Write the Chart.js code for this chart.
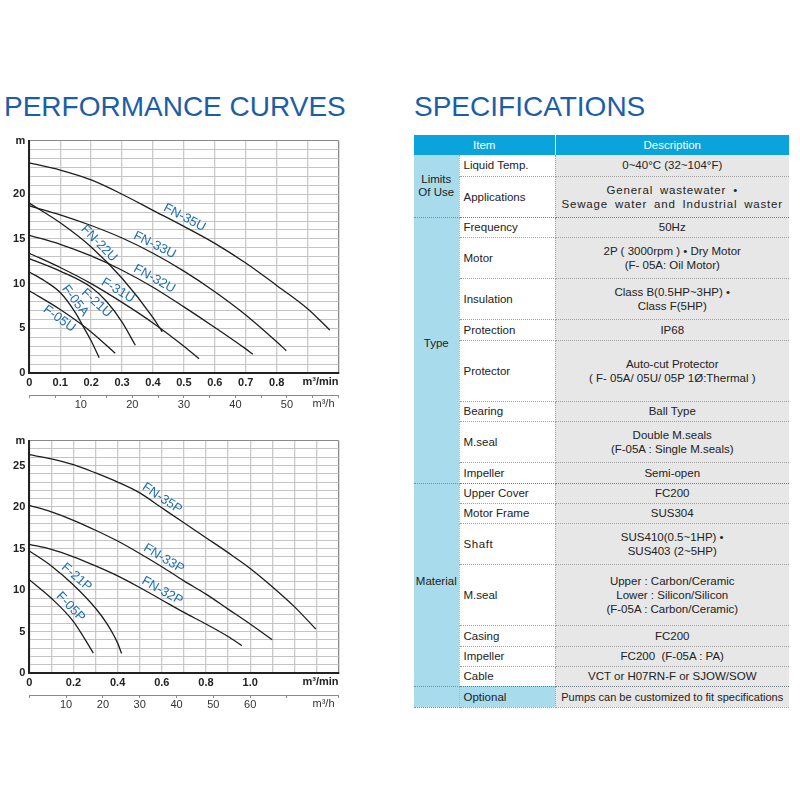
<!DOCTYPE html>
<html>
<head>
<meta charset="utf-8">
<script src="https://cdn.jsdelivr.net/npm/chart.js@4.4.1/dist/chart.umd.min.js"></script>
<style>
  body { margin:0; width:800px; height:800px; background:#fff; position:relative; overflow:hidden;
         font-family:"Liberation Sans", Arial, sans-serif; }
  .title { position:absolute; top:93px; font-size:28px; line-height:28px; color:#1b5ea7; white-space:nowrap; }
  canvas { position:absolute; left:0; }
  #top { top:130px; }
  #bot { top:430px; }
  #spec { position:absolute; left:414px; top:135px; }
  #spec table { border-collapse:collapse; table-layout:fixed; width:375px; font-size:11.5px; color:#222; }
  #spec th { background:#0ba3dc; color:#fff; font-weight:normal; font-size:11.5px; height:20px; padding:0; }
  #spec th + th { border-left:1px solid #fff; }
  #spec td { padding:0; border-bottom:1px dotted #a0a0a0; }
  #spec td.cat { background:#a8dbeb; text-align:center; vertical-align:middle; line-height:13px;
                 border-right:1px dotted #9fb8c2; border-bottom:1px dotted #7f8f96; }
  #spec td.it { background:#fff; padding-left:4px; border-right:1px dotted #a0a0a0; }
  #spec td.ds { background:#e7e7e7; text-align:center; line-height:14px; }
  #spec tr.end td { border-bottom:1px dotted #6f7a80; }
  #spec td.opt { background:#a8dbeb; }
  .wide { letter-spacing:0.8px; word-spacing:3px; }
</style>
</head>
<body>
<div class="title" style="left:4px">PERFORMANCE CURVES</div>
<div class="title" style="left:414px">SPECIFICATIONS</div>

<canvas id="top" width="345" height="290"></canvas>
<canvas id="bot" width="345" height="290"></canvas>

<div id="spec">
<table>
  <colgroup><col style="width:45px"><col style="width:96px"><col style="width:234px"></colgroup>
  <tr><th colspan="2">Item</th><th>Description</th></tr>
  <tr style="height:21px"><td class="cat" rowspan="2">Limits<br>Of Use</td><td class="it">Liquid Temp.</td><td class="ds">0~40°C (32~104°F)</td></tr>
  <tr class="end" style="height:41px"><td class="it">Applications</td><td class="ds wide">General wastewater •<br>Sewage water and Industrial waster</td></tr>
  <tr style="height:20px"><td class="cat" rowspan="8" style="padding-bottom:14px">Type</td><td class="it">Frequency</td><td class="ds">50Hz</td></tr>
  <tr style="height:41px"><td class="it">Motor</td><td class="ds">2P ( 3000rpm ) • Dry Motor<br>(F- 05A: Oil Motor)</td></tr>
  <tr style="height:41px"><td class="it">Insulation</td><td class="ds">Class B(0.5HP~3HP) •<br>Class F(5HP)</td></tr>
  <tr style="height:21px"><td class="it">Protection</td><td class="ds">IP68</td></tr>
  <tr style="height:61px"><td class="it">Protector</td><td class="ds">Auto-cut Protector<br>( F- 05A/ 05U/ 05P 1Ø:Thermal )</td></tr>
  <tr style="height:20px"><td class="it">Bearing</td><td class="ds">Ball Type</td></tr>
  <tr style="height:41px"><td class="it">M.seal</td><td class="ds">Double M.seals<br>(F-05A : Single M.seals)</td></tr>
  <tr class="end" style="height:21px"><td class="it">Impeller</td><td class="ds">Semi-open</td></tr>
  <tr style="height:20px"><td class="cat" rowspan="7" style="padding-bottom:6px">Material</td><td class="it">Upper Cover</td><td class="ds">FC200</td></tr>
  <tr style="height:20px"><td class="it">Motor Frame</td><td class="ds">SUS304</td></tr>
  <tr style="height:41px"><td class="it" style="letter-spacing:0.6px">Shaft</td><td class="ds">SUS410(0.5~1HP) •<br>SUS403 (2~5HP)</td></tr>
  <tr style="height:61px"><td class="it">M.seal</td><td class="ds">Upper : Carbon/Ceramic<br>Lower : Silicon/Silicon<br>(F-05A : Carbon/Ceramic)</td></tr>
  <tr style="height:21px"><td class="it">Casing</td><td class="ds">FC200</td></tr>
  <tr style="height:20px"><td class="it">Impeller</td><td class="ds">FC200 &nbsp;(F-05A : PA)</td></tr>
  <tr class="end" style="height:20px"><td class="it">Cable</td><td class="ds">VCT or H07RN-F or SJOW/SOW</td></tr>
  <tr style="height:21px"><td class="cat"></td><td class="it opt">Optional</td><td class="ds" style="font-size:11px">Pumps can be customized to fit specifications</td></tr>
</table>
</div>

<script>
// flow in m³/min, head in m

// upper chart (U series)
const fn35uQ = [0, 0.1, 0.2, 0.3, 0.4, 0.5, 0.6, 0.7, 0.8, 0.9, 0.972];
const fn35uH = [23.5, 22.7, 21.6, 20.0, 18.2, 16.4, 14.5, 12.3, 9.8, 7.2, 4.8];
const fn33uQ = [0, 0.1, 0.2, 0.3, 0.4, 0.5, 0.6, 0.7, 0.8, 0.831];
const fn33uH = [18.7, 17.7, 16.5, 15.1, 13.4, 11.4, 9.1, 6.5, 3.5, 2.5];
const fn32uQ = [0, 0.1, 0.2, 0.3, 0.4, 0.5, 0.6, 0.7, 0.723];
const fn32uH = [15.4, 14.4, 13.1, 11.5, 9.6, 7.4, 5.1, 2.7, 2.1];
const fn22uQ = [0, 0.1, 0.2, 0.3, 0.4, 0.43];
const fn22uH = [19.0, 16.8, 14.1, 10.6, 6.2, 4.6];
const f31uQ = [0, 0.1, 0.2, 0.3, 0.4, 0.5, 0.549];
const f31uH = [13.4, 11.8, 10.0, 7.9, 5.6, 3.0, 1.6];
const f21uQ = [0, 0.1, 0.2, 0.25, 0.3, 0.343];
const f21uH = [12.8, 11.4, 9.6, 8.0, 5.7, 3.1];
const f05aQ = [0, 0.05, 0.1, 0.15, 0.176, 0.2, 0.226];
const f05aH = [11.3, 10.3, 9.0, 6.7, 5.1, 3.6, 1.7];
const f05uQ = [0, 0.1, 0.2, 0.278];
const f05uH = [9.2, 7.1, 4.6, 2.2];

// lower chart (P series)
const fn35pQ = [0, 0.1, 0.2, 0.3, 0.4, 0.5, 0.6, 0.7, 0.8, 0.9, 1.0, 1.1, 1.2, 1.297];
const fn35pH = [26.3, 25.8, 25.1, 24.1, 23.0, 21.7, 19.9, 18.1, 16.3, 14.5, 12.6, 10.4, 8.0, 5.3];
const fn33pQ = [0, 0.1, 0.2, 0.3, 0.4, 0.5, 0.6, 0.7, 0.8, 0.9, 1.0, 1.1];
const fn33pH = [20.2, 19.4, 18.4, 17.2, 15.9, 14.4, 12.8, 11.1, 9.5, 7.7, 5.9, 4.0];
const fn32pQ = [0, 0.1, 0.2, 0.3, 0.4, 0.5, 0.6, 0.7, 0.8, 0.9, 0.962];
const fn32pH = [15.5, 14.9, 14.0, 12.9, 11.7, 10.3, 8.8, 7.3, 5.9, 4.4, 3.3];
const f21pQ = [0, 0.1, 0.2, 0.3, 0.35, 0.4, 0.418];
const f21pH = [14.7, 12.9, 10.6, 7.8, 6.0, 3.6, 2.35];
const f05pQ = [0, 0.1, 0.2, 0.29];
const f05pH = [11.25, 9.0, 6.2, 2.4];

// tick labels
const topFlowTicks = [0, 0.1, 0.2, 0.3, 0.4, 0.5, 0.6, 0.7, 0.8];
const topHourTicks = [10, 20, 30, 40, 50];
const topHeadTicks = [0, 5, 10, 15, 20];
const botFlowTicks = [0, 0.2, 0.4, 0.6, 0.8, 1.0];
const botHourTicks = [10, 20, 30, 40, 50, 60];
const botHeadTicks = [0, 5, 10, 15, 20, 25];

// curve names: which curve, at what flow, offset from the line in px (negative = above)
const topTags = [
  { t: 'FN-35U', set: 0, q: 0.49, d: -8 },
  { t: 'FN-33U', set: 1, q: 0.394, d: -8 },
  { t: 'FN-32U', set: 2, q: 0.392, d: -8 },
  { t: 'FN-22U', set: 3, q: 0.207, d: -8 },
  { t: 'F-31U', set: 4, q: 0.273, d: -8 },
  { t: 'F-21U', set: 5, q: 0.235, d: 8 },
  { t: 'F-05A', set: 6, q: 0.13, d: -7 },
  { t: 'F-05U', set: 7, q: 0.112, d: 8 }
];
const botTags = [
  { t: 'FN-35P', set: 0, q: 0.581, d: -8 },
  { t: 'FN-33P', set: 1, q: 0.59, d: -8 },
  { t: 'FN-32P', set: 2, q: 0.584, d: -8 },
  { t: 'F-21P', set: 3, q: 0.19, d: -8 },
  { t: 'F-05P', set: 4, q: 0.161, d: -8 }
];

const FONT = '"Liberation Sans", Arial, sans-serif';
Chart.defaults.font.family = FONT;

function pts(q, h) {
  return q.map((v, i) => ({ x: v, y: h[i] }));
}

function curve(q, h) {
  return {
    data: pts(q, h),
    borderColor: '#1e1e1e',
    borderWidth: 1.3,
    pointRadius: 0,
    fill: false,
    cubicInterpolationMode: 'monotone'
  };
}

function near(list, v) {
  return list.find(t => Math.abs(t - v) < 1e-6);
}

// blue curve names along their lines + unit names at the end of the flow axes
const curveTags = {
  id: 'curveTags',
  afterDatasetsDraw(chart, args, opts) {
    const { ctx, chartArea } = chart;
    const x = chart.scales.x, y = chart.scales.y, x2 = chart.scales.x2;
    ctx.save();
    ctx.fillStyle = '#1f6db5';
    ctx.font = '13px ' + FONT;
    ctx.textAlign = 'center';
    ctx.textBaseline = 'middle';
    opts.tags.forEach(tag => {
      const p = chart.data.datasets[tag.set].data;
      let i = 0;
      while (i < p.length - 2 && p[i + 1].x < tag.q) i++;
      const a = p[i], b = p[i + 1];
      const f = (tag.q - a.x) / (b.x - a.x);
      const px = x.getPixelForValue(tag.q);
      const py = y.getPixelForValue(a.y + f * (b.y - a.y));
      const ang = Math.atan2(y.getPixelForValue(b.y) - y.getPixelForValue(a.y),
                             x.getPixelForValue(b.x) - x.getPixelForValue(a.x));
      ctx.save();
      ctx.translate(px - tag.d * Math.sin(ang), py + tag.d * Math.cos(ang));
      ctx.rotate(ang);
      ctx.fillText(tag.t, 0, 0);
      ctx.restore();
    });
    ctx.textAlign = 'right';
    ctx.fillStyle = '#222';
    ctx.font = 'bold 11px ' + FONT;
    ctx.fillText('m³/min', chartArea.right, chartArea.bottom + 9);
    ctx.fillStyle = '#333';
    ctx.font = '11px ' + FONT;
    ctx.fillText('m³/h', chartArea.right - 4, x2.top + 9);
    ctx.restore();
  }
};

function makeChart(id, o) {
  return new Chart(document.getElementById(id), {
    type: 'line',
    data: { datasets: o.curves },
    plugins: [curveTags],
    options: {
      responsive: false,
      animation: false,
      layout: { padding: { top: 9.5, right: 6.5, left: 0, bottom: 0 } },
      plugins: { legend: { display: false }, tooltip: { enabled: false }, curveTags: { tags: o.tags } },
      scales: {
        x: {
          type: 'linear', min: 0, max: o.xMax, weight: 0,
          afterFit: s => { s.height = 22; },
          ticks: {
            stepSize: 0.1, autoSkip: false, maxRotation: 0, padding: 3,
            color: '#222', font: { size: 11, weight: 'bold' },
            callback: v => {
              const t = near(o.flowTicks, v);
              return t === undefined ? '' : (t === 0 ? '0' : t.toFixed(1));
            }
          },
          grid: {
            drawTicks: false, lineWidth: 1.3,
            color: c => (c.tick && Math.abs(c.tick.value - o.xMax) < 1e-6) ? '#8a8a8a' : '#cacaca'
          },
          border: { color: '#222', width: 2 }
        },
        x2: {
          type: 'linear', position: 'bottom', min: 0, max: o.hMax, weight: 1,
          afterFit: s => { s.height = 25; },
          ticks: {
            stepSize: o.hStep, autoSkip: false, maxRotation: 0, padding: 0,
            color: '#333', font: { size: 11 },
            callback: v => o.hourTicks.includes(v) ? String(v) : ''
          },
          grid: { drawOnChartArea: false, drawTicks: true, tickLength: 3, color: '#8a8a8a' },
          border: { color: '#8a8a8a', width: 1 }
        },
        y: {
          type: 'linear', min: 0, max: o.yMax,
          afterFit: s => { s.width = 29.3; },
          ticks: {
            stepSize: 1, autoSkip: false, padding: 4,
            color: '#222', font: { size: 11, weight: 'bold' },
            callback: v => v === o.yMax ? 'm' : (o.headTicks.includes(v) ? String(v) : '')
          },
          grid: {
            drawTicks: false, lineWidth: 1,
            color: c => (c.tick && c.tick.value === o.yMax) ? '#8a8a8a' : '#c4c4c4'
          },
          border: { color: '#222', width: 2 }
        }
      }
    }
  });
}

makeChart('top', {
  xMax: 1.0, yMax: 26, hMax: 60, hStep: 5,
  flowTicks: topFlowTicks, hourTicks: topHourTicks, headTicks: topHeadTicks,
  tags: topTags,
  curves: [
    curve(fn35uQ, fn35uH), curve(fn33uQ, fn33uH), curve(fn32uQ, fn32uH), curve(fn22uQ, fn22uH),
    curve(f31uQ, f31uH), curve(f21uQ, f21uH), curve(f05aQ, f05aH), curve(f05uQ, f05uH)
  ]
});

makeChart('bot', {
  xMax: 1.4, yMax: 28, hMax: 84, hStep: 10,
  flowTicks: botFlowTicks, hourTicks: botHourTicks, headTicks: botHeadTicks,
  tags: botTags,
  curves: [
    curve(fn35pQ, fn35pH), curve(fn33pQ, fn33pH), curve(fn32pQ, fn32pH),
    curve(f21pQ, f21pH), curve(f05pQ, f05pH)
  ]
});
</script>
</body>
</html>
